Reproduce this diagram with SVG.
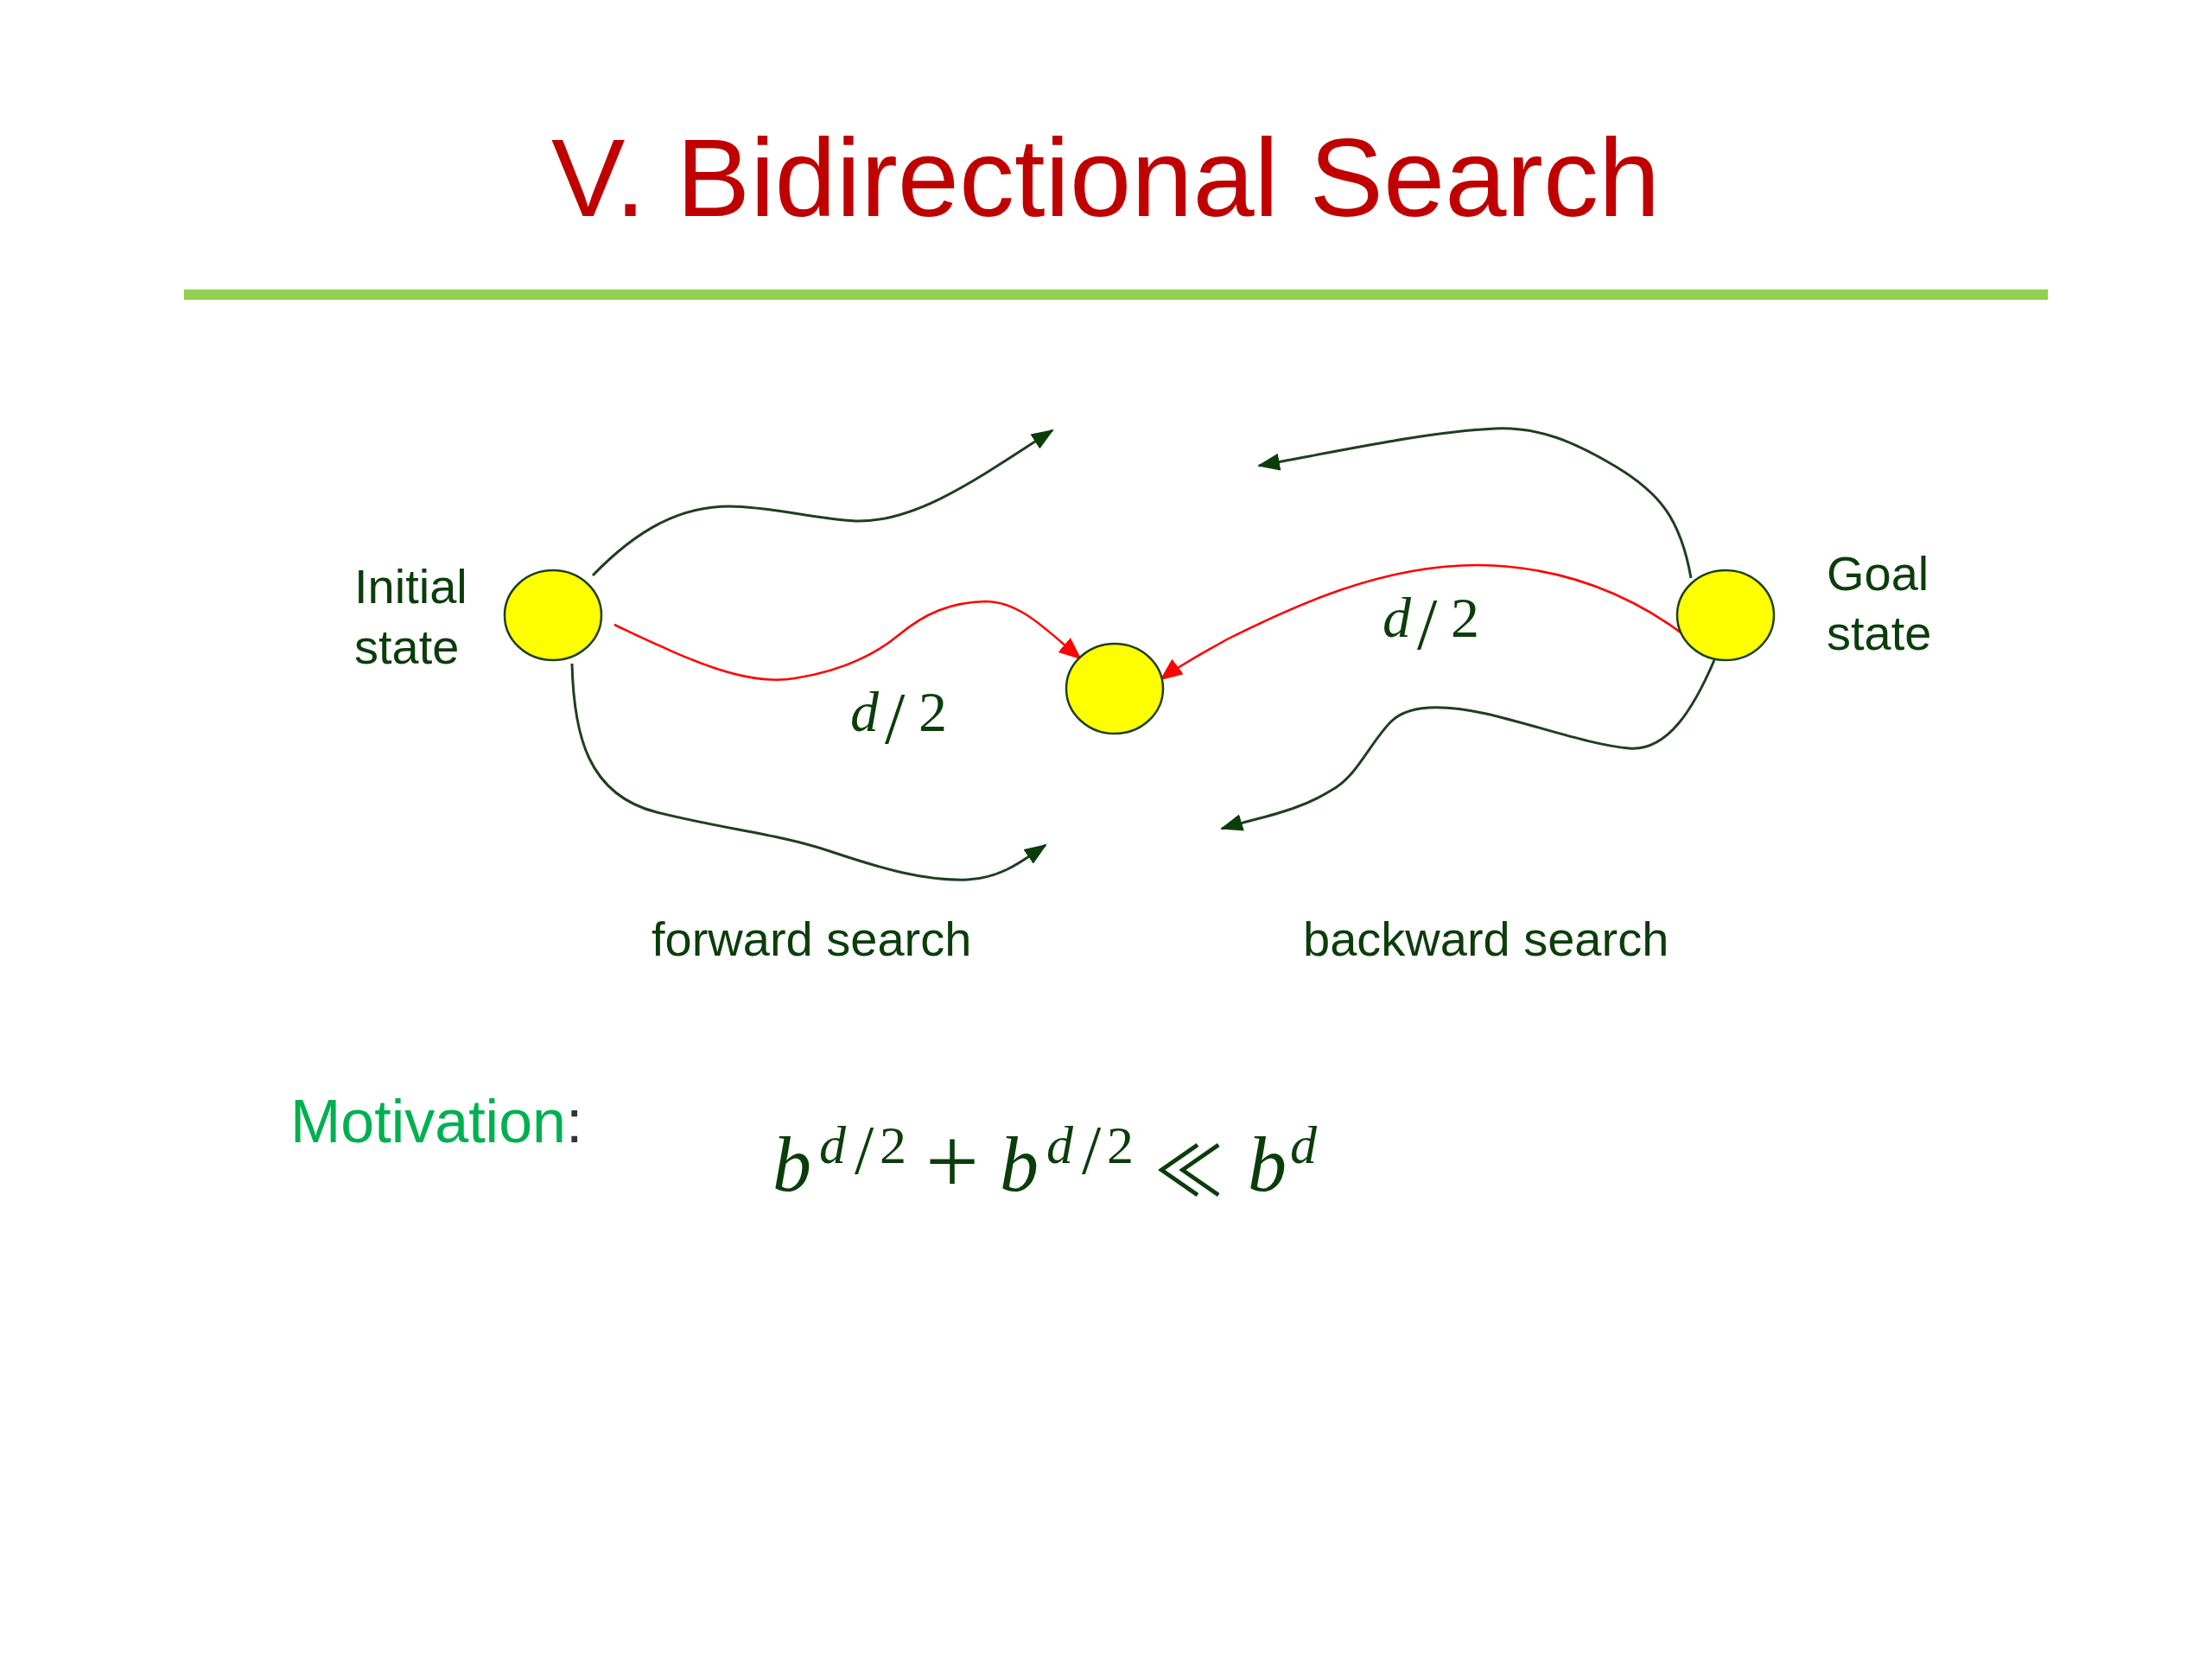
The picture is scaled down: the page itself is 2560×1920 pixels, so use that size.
<svg xmlns="http://www.w3.org/2000/svg" width="2560" height="1920" viewBox="0 0 2560 1920">
<style>
.lbl{font-family:"Liberation Sans",Arial,sans-serif;font-size:56px;fill:#0b3d0b}
.math{font-family:"Liberation Serif","Times New Roman",serif;fill:#0b3d0b}
.it{font-style:italic}
.node{fill:#FFFF00;stroke:#1f3f1f;stroke-width:2.5}
.g{fill:none;stroke:#1f3f1f;stroke-width:3}
.r{fill:none;stroke:#FF0000;stroke-width:2.5}
</style>
<defs>
<marker id="ag" markerUnits="userSpaceOnUse" markerWidth="26" markerHeight="20" viewBox="0 0 26 20" refX="24" refY="10" orient="auto">
<path d="M0,0 L26,10 L0,20 z" fill="#0b3d0b"/>
</marker>
<marker id="ar" markerUnits="userSpaceOnUse" markerWidth="26" markerHeight="22" viewBox="0 0 26 22" refX="24" refY="11" orient="auto">
<path d="M0,0 L26,11 L0,22 z" fill="#FF0000"/>
</marker>
</defs>
<rect width="2560" height="1920" fill="#FFFFFF"/>
<text x="638" y="250" font-family="'Liberation Sans',Arial,sans-serif" font-size="128" fill="#C00000">V. Bidirectional Search</text>
<line x1="213" y1="341" x2="2370" y2="341" stroke="#92D050" stroke-width="12"/>

<g id="connectors">
<path class="g" marker-end="url(#ag)" d="M686,666 C740,610 790,586 844,586 C890,586 940,600 990,603 C1060,605 1130,555 1218,498"/>
<path class="g" marker-end="url(#ag)" d="M662,768 C664,850 680,920 760,940 C840,960 900,965 960,985 C1020,1005 1070,1020 1120,1018 C1160,1016 1185,995 1210,978"/>
<path class="r" marker-end="url(#ar)" d="M711,723 C790,760 860,795 920,785 C970,777 1010,760 1040,735 C1070,710 1100,697 1140,696 C1180,696 1210,728 1250,762"/>
<path class="g" marker-end="url(#ag)" d="M1957,669 C1945,600 1920,570 1870,540 C1820,510 1780,494 1730,496 C1650,500 1560,520 1457,539"/>
<path class="g" marker-end="url(#ag)" d="M1984,764 C1960,820 1930,870 1885,866 C1840,862 1780,840 1720,826 C1670,815 1630,815 1610,835 C1585,860 1570,900 1540,915 C1500,940 1460,945 1414,959"/>
<path class="r" marker-end="url(#ar)" d="M1952,737 C1890,690 1810,655 1710,654 C1600,654 1500,700 1420,740 C1390,757 1365,770 1344,786"/>
</g>

<g id="initial">
<ellipse class="node" cx="640" cy="712" rx="56" ry="52"/>
<text class="lbl" x="410" y="698">Initial</text>
<text class="lbl" x="410" y="768">state</text>
</g>
<g id="middle">
<ellipse class="node" cx="1290" cy="797" rx="56" ry="52"/>
</g>
<g id="goal">
<ellipse class="node" cx="1997" cy="712" rx="56" ry="52"/>
<text class="lbl" x="2114" y="683">Goal</text>
<text class="lbl" x="2114" y="752">state</text>
</g>

<text class="math" font-size="66" y="846"><tspan class="it" x="984">d</tspan><tspan x="1024" y="860" font-size="84">/</tspan><tspan x="1063" y="846">2</tspan></text>
<text class="math" font-size="66" y="737"><tspan class="it" x="1600">d</tspan><tspan x="1640" y="751" font-size="84">/</tspan><tspan x="1679" y="737">2</tspan></text>

<text class="lbl" x="754" y="1106">forward search</text>
<text class="lbl" x="1508" y="1106">backward search</text>

<text x="336" y="1322" font-family="'Liberation Sans',Arial,sans-serif" font-size="70"><tspan fill="#00B050">Motivation</tspan><tspan fill="#333333">:</tspan></text>

<text class="math" font-size="90" y="1378"><tspan class="it" x="894">b</tspan><tspan class="it" x="948" y="1346" font-size="62">d</tspan><tspan x="989" y="1358" font-size="80">/</tspan><tspan x="1018" y="1346" font-size="62">2</tspan><tspan x="1071" y="1381" font-size="110">+</tspan><tspan class="it" x="1157" y="1378">b</tspan><tspan class="it" x="1211" y="1346" font-size="62">d</tspan><tspan x="1252" y="1358" font-size="80">/</tspan><tspan x="1281" y="1346" font-size="62">2</tspan><tspan x="1336" y="1384" font-family="'Noto Sans CJK JP',sans-serif" font-size="80">≪</tspan><tspan class="it" x="1444" y="1378">b</tspan><tspan class="it" x="1493" y="1346" font-size="62">d</tspan></text>
</svg>
